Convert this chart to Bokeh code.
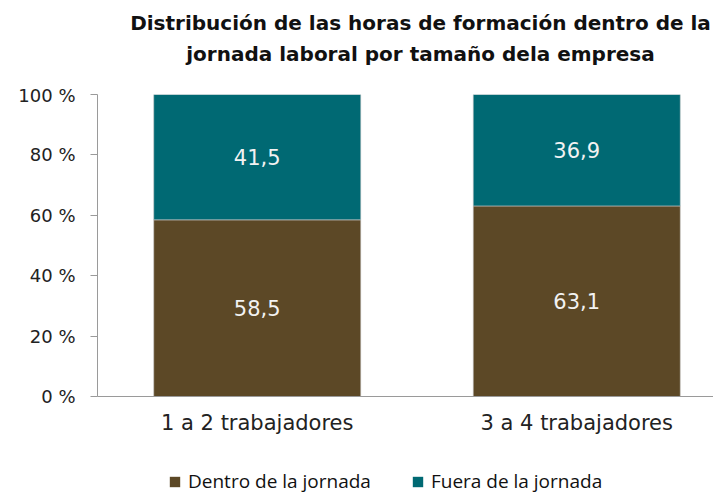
from bokeh.plotting import figure
from bokeh.layouts import column
from bokeh.models import Range1d, FixedTicker, Legend, LegendItem, ColumnDataSource
from bokeh.embed import file_html
from bokeh.resources import INLINE
from bokeh.core.properties import value

categories = ["1 a 2 trabajadores", "3 a 4 trabajadores"]
dentro = [58.5, 63.1]
fuera = [41.5, 36.9]
series_names = ["Dentro de la jornada", "Fuera de la jornada"]
y_ticks = [0, 20, 40, 60, 80, 100]
y_tick_labels = ["0 %", "20 %", "40 %", "60 %", "80 %", "100 %"]
title_lines = ["Distribución de las horas de formación dentro de la",
               "jornada laboral por tamaño dela empresa"]

BROWN = "#5C4826"
TEAL = "#006973"
LIGHT = "DejaVu Sans"
colors = [BROWN, TEAL]

xs = [i + 0.5 for i in range(len(categories))]
bottom_f = dentro
top_f = [d + f for d, f in zip(dentro, fuera)]

src = ColumnDataSource(dict(x=xs, d=dentro, f_bot=bottom_f, f_top=top_f,
                            d_mid=[v / 2 for v in dentro],
                            f_mid=[b + (t - b) / 2 for b, t in zip(bottom_f, top_f)],
                            d_lab=[f"{v:.1f}".replace(".", ",") for v in dentro],
                            f_lab=[f"{v:.1f}".replace(".", ",") for v in fuera]))

W = 713

# ---- title strip (pixel-like coordinates: x right, y down) ----
tf = figure(width=W, height=84, output_backend="svg", toolbar_location=None,
            x_axis_type=None, y_axis_type=None,
            x_range=Range1d(97, 713), y_range=Range1d(84, 0),
            min_border_left=0, min_border_right=0, min_border_top=0, min_border_bottom=0)
tf.outline_line_color = None
tf.grid.grid_line_color = None
tf.text(x=[420, 420], y=[22, 53], text=title_lines, text_align="center",
        text_baseline="middle", text_font=value("DejaVu Sans"), text_font_style="bold",
        text_font_size="20px", text_color="#111111")

# ---- main chart ----
p = figure(frame_width=616, frame_height=302, output_backend="svg", toolbar_location=None,
           x_range=Range1d(0, 1.928), y_range=Range1d(0, 100),
           min_border_left=97, min_border_right=0, min_border_top=10, min_border_bottom=50)
p.outline_line_color = None
p.grid.grid_line_color = None
p.background_fill_color = "white"
p.border_fill_color = "white"

r1 = p.vbar(x="x", top="d", bottom=0, width=0.648, source=src, fill_color=BROWN,
            line_color="#c8c8c8", line_width=0.6)
r2 = p.vbar(x="x", top="f_top", bottom="f_bot", width=0.648, source=src, fill_color=TEAL,
            line_color="#c8c8c8", line_width=0.6)

for col, ycol in (("d_lab", "d_mid"), ("f_lab", "f_mid")):
    p.text(x="x", y=ycol, text=col, source=src, text_align="center", text_baseline="middle",
           text_color="#f2f2f2", text_font=value(LIGHT), text_font_size="21px")

ya = p.yaxis[0]
ya.ticker = FixedTicker(ticks=y_ticks)
ya.major_label_overrides = {t: l for t, l in zip(y_ticks, y_tick_labels)}
ya.axis_line_color = "#9a9a9a"
ya.major_tick_line_color = "#9a9a9a"
ya.major_tick_out = 7
ya.major_tick_in = 0
ya.minor_tick_line_color = None
ya.major_label_text_font = LIGHT
ya.major_label_text_font_size = "18px"
ya.major_label_text_color = "#222222"
ya.major_label_standoff = 15

xa = p.xaxis[0]
xa.ticker = FixedTicker(ticks=xs)
xa.major_label_overrides = {x: c for x, c in zip(xs, categories)}
xa.axis_line_color = "#9a9a9a"
xa.major_tick_line_color = None
xa.minor_tick_line_color = None
xa.major_label_text_font = LIGHT
xa.major_label_text_font_size = "21px"
xa.major_label_text_color = "#222222"
xa.major_label_standoff = 8

# ---- legend strip ----
lf = figure(width=W, height=47, output_backend="svg", toolbar_location=None,
            x_axis_type=None, y_axis_type=None, x_range=Range1d(0, 2), y_range=Range1d(200, 300),
            min_border_left=0, min_border_right=0, min_border_top=0, min_border_bottom=0)
lf.outline_line_color = None
lf.grid.grid_line_color = None
lr1 = lf.vbar(x=xs, top=dentro, width=0.1, fill_color=colors[0], line_color=None)
lr2 = lf.vbar(x=xs, top=fuera, width=0.1, fill_color=colors[1], line_color=None)
legend = Legend(items=[LegendItem(label=series_names[0], renderers=[lr1]),
                       LegendItem(label=series_names[1], renderers=[lr2])],
                orientation="horizontal", location=(71, -1),
                label_text_font="Open Sans", label_text_font_size="19px",
                label_text_color="#111111", glyph_width=13, glyph_height=13,
                spacing=40, label_standoff=7, border_line_color=None,
                background_fill_alpha=0, margin=0, padding=0)
lf.add_layout(legend, "center")

open("out.html", "w").write(file_html(column(tf, p, lf, spacing=0), INLINE))
